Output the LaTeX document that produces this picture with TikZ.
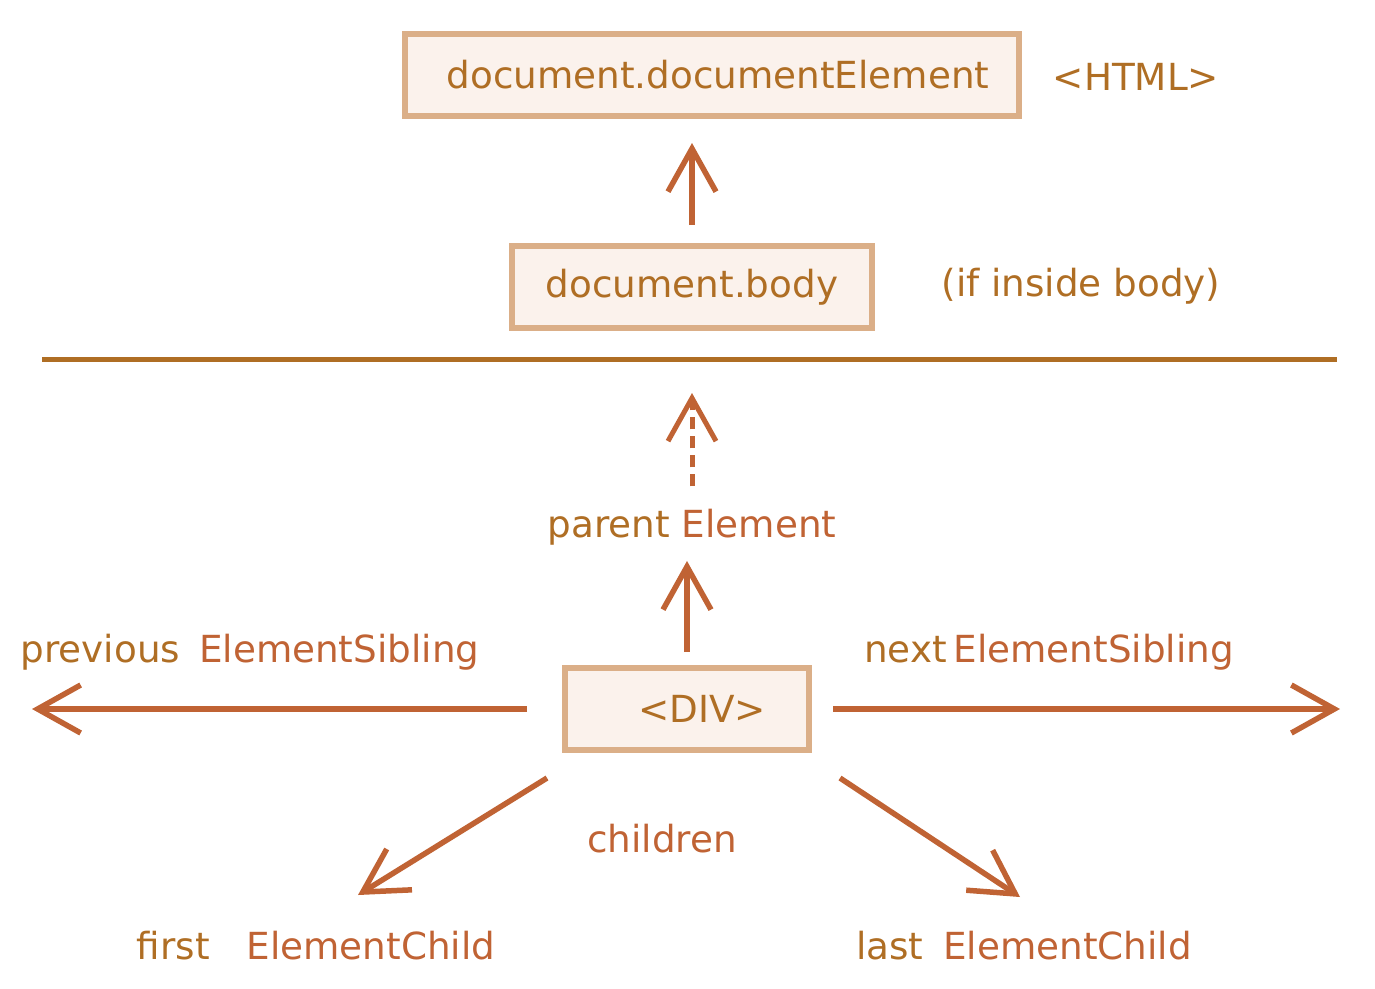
\documentclass[tikz,border=0pt]{standalone}
\usepackage{fontspec}
\setmainfont{DejaVu Sans}
\usetikzlibrary{arrows.meta}
\definecolor{txt}{HTML}{AF6E24}
\definecolor{acc}{HTML}{C06334}
\definecolor{boxfill}{HTML}{FBF2EC}
\definecolor{boxline}{HTML}{DBAF88}

\begin{document}
\begin{tikzpicture}[x=1pt,y=-1pt,
  every node/.style={font=\fontsize{37.3}{44}\selectfont,text=txt},
  box/.style={draw=boxline,fill=boxfill,line width=6pt,minimum height=82pt},
  lbl/.style={anchor=base,inner sep=0pt},
  arr/.style={draw=acc,line width=5.5pt,-{Straight Barb[length=43pt,width=48pt]}}]
  \useasboundingbox (0,0) rectangle (1375,988);
  % boxes
  \node[box,minimum width=614pt] (html) at (712,75) {\hspace*{12pt}document.documentElement};
  \node[box,minimum width=360pt] (body) at (692,287) {document.body};
  \node[box,minimum width=244pt] (div) at (687,709) {\hspace*{30pt}<DIV>};
  % side notes
  \node[lbl] (htmltag) at (1136,90) {<HTML>};
  \node[lbl] (inbody) at (1081,296) {(if inside body)};
  \node[lbl] (pe) at (692,537) {parent {\color{acc}Element}};
  \node[lbl] (prev) at (250,662) {previous\hspace{19pt}{\color{acc}ElementSibling}};
  \node[lbl] (next) at (1049,662) {next\hspace{7pt}{\color{acc}ElementSibling}};
  \node[lbl,text=acc] (kids) at (662,852) {children};
  \node[lbl] (first) at (316,959) {first\hspace{37pt}{\color{acc}ElementChild}};
  \node[lbl] (last) at (1024,959) {last\hspace{20pt}{\color{acc}ElementChild}};
  % divider
  \coordinate (divl) at (42,359);
  \coordinate (divr) at (1337,359);
  \draw[txt,line width=5pt] (divl) -- (divr);
  % free ends
  \coordinate (prevEnd) at (32,709);
  \coordinate (nextEnd) at (1340,709);
  \coordinate (firstEnd) at (358,895);
  \coordinate (lastEnd) at (1020,897);
  % arrows
  \draw[arr,shorten <=18pt,shorten >=24pt] (body.north) -- (body.north |- html.south);
  \draw[arr,line width=5pt,dash pattern=on 12pt off 7pt,shorten <=22pt,shorten >=34pt] (pe.north) -- (pe.north |- divr);
  \draw[arr,shorten <=13pt,shorten >=16pt] (div.north) -- (div.north |- pe.south);
  \draw[arr] ([xshift=-35pt]div.west) -- (prevEnd);
  \draw[arr] ([xshift=21pt]div.east) -- (nextEnd);
  \draw[arr] ([xshift=-15pt,yshift=-25pt]div.south west) -- (firstEnd);
  \draw[arr] ([xshift=28pt,yshift=-25pt]div.south east) -- (lastEnd);
\end{tikzpicture}
\end{document}
